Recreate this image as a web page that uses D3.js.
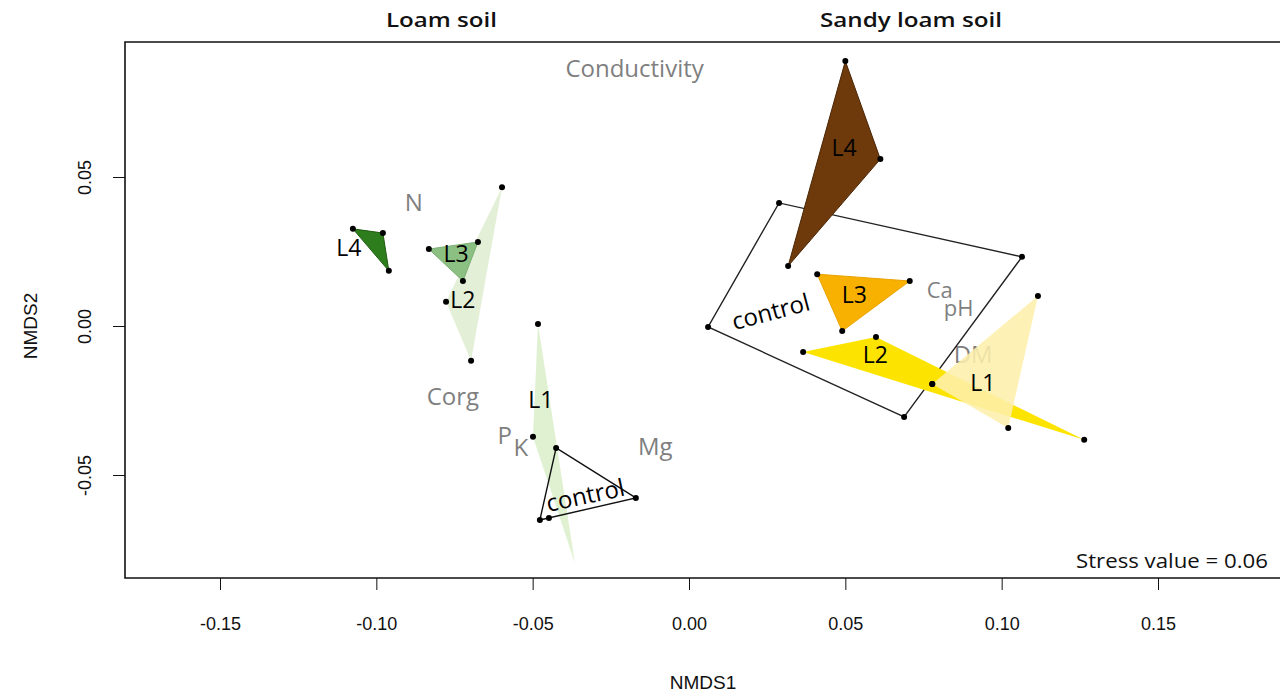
<!DOCTYPE html>
<html>
<head>
<meta charset="utf-8">
<script src="https://cdn.jsdelivr.net/npm/d3@7"></script>
<style>
  body { margin: 0; background: #fff; }
  svg { display: block; }
</style>
</head>
<body>
<div id="chart"></div>
<script>
// Group hulls (NMDS1, NMDS2)
const loamL4 = [[-0.1075, 0.0326], [-0.0979, 0.0312], [-0.0960, 0.0185]];
const loamL3 = [[-0.0832, 0.0258], [-0.0675, 0.0282], [-0.0723, 0.0151]];
const loamL2 = [[-0.0598, 0.0466], [-0.0777, 0.0081], [-0.0697, -0.0117]];
const loamL1 = [[-0.0483, 0.0007], [-0.0499, -0.0372]];
const loamL1Tip = [[-0.0365, -0.0795]]; // hull corner without a visible dot
const loamControl = [[-0.0425, -0.0409], [-0.0170, -0.0577], [-0.0448, -0.0644], [-0.0477, -0.0651]];

const sandyL4 = [[0.0500, 0.0889], [0.0612, 0.0560], [0.0317, 0.0201]];
const sandyL3 = [[0.0410, 0.0174], [0.0706, 0.0151], [0.0490, -0.0017]];
const sandyL2 = [[0.0365, -0.0087], [0.0598, -0.0037], [0.0778, -0.0195], [0.1264, -0.0382]];
const sandyL1 = [[0.1116, 0.0101], [0.1021, -0.0342], [0.0778, -0.0195]];
const sandyControl = [[0.0288, 0.0413], [0.1065, 0.0232], [0.0688, -0.0305], [0.0061, -0.0003]];

// Environmental vector labels
const envNames = ["Conductivity", "N", "Corg", "P", "K", "Mg", "Ca", "pH", "DM"];
const envX = [-0.0174, -0.0880, -0.0755, -0.0589, -0.0538, -0.0108, 0.0802, 0.0862, 0.0909];
const envY = [0.0856, 0.0408, -0.0242, -0.0373, -0.0415, -0.0413, 0.0113, 0.0052, -0.0101];

const xTicks = [-0.15, -0.10, -0.05, 0.00, 0.05, 0.10, 0.15];
const yTicks = [-0.05, 0.00, 0.05];

const groups = [
  { name: "L2", pts: loamL2, fill: "#e3f0d7", stroke: "none", label: [-0.0723, 0.0081] },
  { name: "L1", pts: loamL1, extra: loamL1Tip, fill: "#e0f1d1", stroke: "none", label: [-0.0474, -0.0253] },
  { name: "L3", pts: loamL3, fill: "#8cc083", stroke: "#7aae72", label: [-0.0745, 0.0234] },
  { name: "L4", pts: loamL4, fill: "#2e7d1d", stroke: "#1f5a13", label: [-0.1088, 0.0255] },
  { name: "control", pts: loamControl, fill: "none", stroke: "#111", label: [-0.0330, -0.0575], rot: -12 },
  { name: "control", pts: sandyControl, fill: "none", stroke: "#222", label: [0.0263, 0.0041], rot: -15 },
  { name: "L4", pts: sandyL4, fill: "#6e3a0c", stroke: "#4a2606", label: [0.0496, 0.0590] },
  { name: "L3", pts: sandyL3, fill: "#f8b100", stroke: "#e9a200", label: [0.0529, 0.0097] },
  { name: "L2", pts: sandyL2, fill: "#fce400", stroke: "none", label: [0.0596, -0.0104] },
  { name: "L1", pts: sandyL1, fill: "#fdefac", stroke: "none", opacity: 0.88, label: [0.0940, -0.0198] }
];

const width = 1280, height = 693;
const margin = { top: 42, left: 125, right: -10, bottom: 115 };
const labelFont = "'Open Sans', sans-serif";
const axisFont = "'Liberation Sans', Arial, sans-serif";
const fmt = d => d3.format(".2f")(d).replace("\u2212", "-");

const svg = d3.select("#chart").append("svg")
  .attr("width", width)
  .attr("height", height);

const x = d3.scaleLinear().domain([-0.15, 0.15]).range([220, 1158]);
const y = d3.scaleLinear().domain([-0.05, 0.05]).range([475, 177]);

const plotLeft = margin.left, plotTop = margin.top;
const plotRight = width - margin.right, plotBottom = height - margin.bottom;

// Axes
const xAxis = d3.axisBottom(x).tickValues(xTicks).tickFormat(fmt).tickSize(12).tickPadding(27);
svg.append("g")
  .attr("transform", `translate(0,${plotBottom})`)
  .call(xAxis)
  .call(g => g.select(".domain").remove())
  .call(g => g.selectAll("line").attr("stroke", "#111"))
  .call(g => g.selectAll("text").attr("font-family", axisFont).attr("font-size", 18).attr("fill", "#111"));

const yAxis = d3.axisLeft(y).tickValues(yTicks).tickFormat(fmt).tickSize(12).tickPadding(0);
svg.append("g")
  .attr("transform", `translate(${plotLeft},0)`)
  .call(yAxis)
  .call(g => g.select(".domain").remove())
  .call(g => g.selectAll("line").attr("stroke", "#111"))
  .call(g => g.selectAll("text")
    .attr("font-family", axisFont).attr("font-size", 18).attr("fill", "#111")
    .attr("text-anchor", "middle").attr("dy", 0)
    .attr("transform", "translate(-34,0) rotate(-90)")
    .attr("x", 0).attr("y", 0));

// Axis titles
svg.append("text")
  .attr("x", 703).attr("y", 689)
  .attr("text-anchor", "middle")
  .attr("font-family", axisFont).attr("font-size", 19).attr("fill", "#111")
  .text("NMDS1");
svg.append("text")
  .attr("transform", `translate(37,${y(0)}) rotate(-90)`)
  .attr("text-anchor", "middle")
  .attr("font-family", axisFont).attr("font-size", 19).attr("fill", "#111")
  .text("NMDS2");

// Panel titles
svg.append("text").attr("x", 386).attr("y", 27)
  .attr("font-family", labelFont).attr("font-weight", 600).attr("font-size", 19).attr("fill", "#111")
  .attr("textLength", 111).attr("lengthAdjust", "spacingAndGlyphs")
  .text("Loam soil");
svg.append("text").attr("x", 820).attr("y", 27)
  .attr("font-family", labelFont).attr("font-weight", 600).attr("font-size", 19).attr("fill", "#111")
  .attr("textLength", 182).attr("lengthAdjust", "spacingAndGlyphs")
  .text("Sandy loam soil");

// Environmental labels (drawn below hulls)
svg.append("g").selectAll("text")
  .data(envNames)
  .enter().append("text")
  .attr("x", (d, i) => x(envX[i]))
  .attr("y", (d, i) => y(envY[i]))
  .attr("text-anchor", "middle")
  .attr("dominant-baseline", "middle")
  .attr("font-family", labelFont)
  .attr("font-size", d => d === "Ca" || d === "pH" ? 22 : 24)
  .attr("fill", "#7f7f7f")
  .text(d => d);

// Hulls
const hullG = svg.append("g");
groups.forEach(gr => {
  const all = gr.pts.concat(gr.extra || []).map(p => [x(p[0]), y(p[1])]);
  const hull = d3.polygonHull(all);
  hullG.append("path")
    .attr("d", "M" + hull.join("L") + "Z")
    .attr("fill", gr.fill)
    .attr("fill-opacity", gr.opacity || 1)
    .attr("stroke", gr.stroke)
    .attr("stroke-width", gr.fill === "none" ? 1.4 : 1);
});

// Dots
groups.forEach(gr => {
  hullG.selectAll(null)
    .data(gr.pts)
    .enter().append("circle")
    .attr("cx", d => x(d[0]))
    .attr("cy", d => y(d[1]))
    .attr("r", 3)
    .attr("fill", "#000");
});

// Group labels
groups.forEach(gr => {
  const lx = x(gr.label[0]), ly = y(gr.label[1]);
  hullG.append("text")
    .attr("transform", `translate(${lx},${ly}) rotate(${gr.rot || 0})`)
    .attr("text-anchor", "middle")
    .attr("dominant-baseline", "middle")
    .attr("font-family", labelFont)
    .attr("font-weight", 500)
    .attr("font-size", gr.name === "control" ? 24 : 23)
    .attr("fill", "#000")
    .text(gr.name);
});

// Stress annotation
svg.append("text")
  .attr("x", 1268).attr("y", 568)
  .attr("text-anchor", "end")
  .attr("font-family", labelFont).attr("font-size", 20).attr("fill", "#111")
  .attr("textLength", 192).attr("lengthAdjust", "spacingAndGlyphs")
  .text("Stress value = 0.06");

// Plot frame (right side runs off the page)
svg.append("path")
  .attr("d", `M${plotRight},${plotTop}H${plotLeft}V${plotBottom}H${plotRight}`)
  .attr("fill", "none")
  .attr("stroke", "#111")
  .attr("stroke-width", 1.6);
</script>
</body>
</html>
